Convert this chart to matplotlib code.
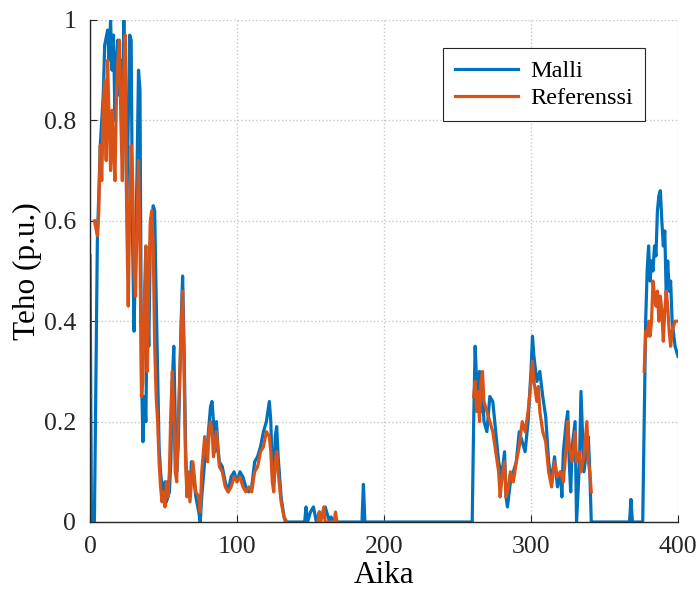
import numpy as np
import matplotlib.pyplot as plt

nan = np.nan

# Malli (blue)
malli_x = [0, 1, 3, 5, 7, 9, 10, 12, 13, 14, 15, 16, 17, 18, 19, 20, 21, 22, 23, 24,
           25, 26, 27, 28, 29, 30, 31, 32, 33, 34, 35, 36, 37, 38, 39, 40, 41, 42, 43, 44,
           45, 46, 47, 48, 49, 50, 51, 52, 53, 54, 55, 56, 57, 58, 59, 60, 62, 63, 64, 65,
           66, 67, 68, 69, 70, 72, 74, 75, 76, 78, 80, 82, 83, 84, 85, 86, 87, 88, 90, 92,
           94, 96, 98, 100, 102, 104, 106, 108, 110, 112, 114, 116, 118, 120, 122, 123, 124, 125, 126, 127,
           128, 130, 132, 133, 146, 147, 148, 150, 152, 154, 156, 158, 160, 162, 163, 164, 165, 185, 186, 187,
           260, 261, 262, 263, 264, 265, 266, 267, 268, 270, 272, 274, 276, 278, 280, 282, 283, 284, 286, 288,
           290, 292, 294, 296, 298, 300, 301, 302, 304, 306, 308, 310, 312, 314, 316, 318, 320, 321, 322, 324,
           325, 326, 327, 328, 330, 331, 333, 334, 335, 336, 338, 339, 340, 341, 367, 368, 369, 376, 378, 379,
           380, 381, 382, 383, 384, 385, 386, 387, 388, 389, 390, 391, 392, 393, 394, 395, 396, 398, 400]
malli_y = [0.53, 0.0, 0.0, 0.56, 0.75, 0.85, 0.95, 0.98, 0.92, 1.0, 0.90, 0.97, 0.80, 0.92, 0.96, 0.85, 0.92, 0.78, 1.0, 0.85,
           0.62, 0.80, 0.97, 0.96, 0.55, 0.38, 0.55, 0.70, 0.90, 0.86, 0.30, 0.16, 0.25, 0.20, 0.45, 0.35, 0.55, 0.60, 0.63, 0.62,
           0.45, 0.30, 0.15, 0.10, 0.07, 0.05, 0.08, 0.04, 0.05, 0.06, 0.12, 0.28, 0.35, 0.20, 0.10, 0.15, 0.40, 0.49, 0.35, 0.15,
           0.06, 0.08, 0.05, 0.12, 0.10, 0.05, 0.02, 0.0, 0.05, 0.12, 0.16, 0.23, 0.24, 0.20, 0.14, 0.20, 0.15, 0.12, 0.11, 0.08,
           0.06, 0.09, 0.10, 0.08, 0.10, 0.09, 0.07, 0.06, 0.07, 0.12, 0.13, 0.15, 0.18, 0.20, 0.24, 0.20, 0.10, 0.08, 0.17, 0.19,
           0.13, 0.05, 0.01, 0.0, 0.0, 0.03, 0.0, 0.02, 0.03, 0.0, 0.02, 0.01, 0.03, 0.01, 0.0, 0.01, 0.0, 0.0, 0.075, 0.0,
           0.0, 0.20, 0.35, 0.28, 0.22, 0.30, 0.22, 0.26, 0.20, 0.18, 0.25, 0.24, 0.18, 0.12, 0.09, 0.14, 0.05, 0.03, 0.08, 0.10,
           0.12, 0.18, 0.16, 0.14, 0.20, 0.30, 0.37, 0.33, 0.28, 0.30, 0.25, 0.21, 0.12, 0.08, 0.13, 0.07, 0.10, 0.05, 0.14, 0.20,
           0.22, 0.12, 0.06, 0.15, 0.20, 0.0, 0.12, 0.26, 0.18, 0.10, 0.15, 0.17, 0.10, 0.0, 0.0, 0.045, 0.0, 0.0, 0.40, 0.50,
           0.55, 0.48, 0.52, 0.50, 0.55, 0.53, 0.62, 0.65, 0.66, 0.60, 0.55, 0.58, 0.45, 0.52, 0.46, 0.48, 0.40, 0.35, 0.33]

# Referenssi (orange), NaN where no data
ref_x = [0, 0.4, 1, 3, 5, 6, 7, 8, 9, 10, 11, 12, 13, 14, 15, 16, 17, 18, 19, 20, 21,
         22, 23, 24, 25, 26, 27, 28, 29, 30, 31, 32, 33, 34, 35, 36, 37, 38, 39, 40, 41,
         42, 43, 44, 45, 46, 47, 48, 49, 50, 51, 52, 53, 54, 55, 56, 57, 58, 59, 60, 62,
         63, 64, 65, 66, 67, 68, 69, 70, 72, 74, 75, 76, 78, 80, 81, 82, 83, 84, 86, 88,
         90, 92, 94, 96, 98, 100, 102, 104, 106, 108, 110, 112, 114, 116, 118, 120, 122, 123, 124, 125,
         126, 127, 128, 130, 132, 134, 135, 155, 156, 157, 159, 160, 166, 167, 168, 169, 260, 261, 262, 263,
         264, 265, 266, 267, 268, 270, 272, 274, 276, 278, 279, 280, 282, 283, 284, 286, 288, 290, 292, 294,
         296, 298, 300, 301, 302, 304, 305, 306, 308, 310, 312, 314, 316, 318, 320, 322, 324, 325, 326, 328,
         330, 331, 333, 334, 336, 338, 339, 340, 341, 376, 377, 378, 379, 380, 381, 382, 383, 384, 385, 386,
         387, 388, 389, 390, 391, 392, 393, 394, 395, 396, 398, 400]
ref_y = [0.25, 0.25, nan, 0.60, 0.57, 0.62, 0.75, 0.68, 0.82, 0.88, 0.72, 0.92, 0.80, 0.70, 0.82, 0.74, 0.68, 0.85, 0.92, 0.96, 0.80,
         0.68, 0.90, 0.97, 0.60, 0.43, 0.62, 0.75, 0.68, 0.50, 0.45, 0.60, 0.72, 0.55, 0.25, 0.28, 0.45, 0.55, 0.30, 0.48, 0.60,
         0.62, 0.55, 0.35, 0.25, 0.20, 0.12, 0.07, 0.04, 0.06, 0.03, 0.08, 0.05, 0.10, 0.22, 0.30, 0.22, 0.10, 0.08, 0.20, 0.38,
         0.46, 0.30, 0.12, 0.05, 0.10, 0.04, 0.08, 0.12, 0.06, 0.05, 0.02, 0.10, 0.17, 0.12, 0.18, 0.20, 0.18, 0.13, 0.18, 0.11,
         0.10, 0.07, 0.06, 0.07, 0.09, 0.08, 0.09, 0.07, 0.06, 0.07, 0.06, 0.10, 0.11, 0.14, 0.15, 0.18, 0.17, 0.14, 0.08, 0.06,
         0.12, 0.14, 0.10, 0.04, 0.01, 0.0, nan, 0.0, 0.02, 0.0, 0.03, 0.0, 0.0, 0.02, 0.0, nan, nan, 0.25, 0.28, 0.22,
         0.26, 0.20, 0.28, 0.30, 0.24, 0.22, 0.20, 0.18, 0.14, 0.10, 0.05, 0.08, 0.12, 0.05, 0.06, 0.10, 0.08, 0.12, 0.15, 0.20,
         0.18, 0.22, 0.28, 0.32, 0.28, 0.24, 0.27, 0.22, 0.18, 0.16, 0.10, 0.07, 0.12, 0.09, 0.10, 0.08, 0.15, 0.20, 0.15, 0.12,
         0.18, 0.12, 0.14, 0.10, 0.13, 0.20, 0.12, 0.10, 0.06, nan, 0.30, 0.38, 0.37, 0.40, 0.37, 0.40, 0.48, 0.45, 0.43, 0.46,
         0.40, 0.45, 0.42, 0.36, 0.42, 0.46, 0.43, 0.38, 0.35, 0.38, 0.40, 0.40]

plt.rcParams['font.family'] = ['Liberation Serif', 'DejaVu Serif']

fig = plt.figure(figsize=(6.98, 5.94), dpi=100)
ax = fig.add_axes([90 / 698, 72 / 594, 588 / 698, 502 / 594])

ax.plot(malli_x, malli_y, color='#0072BD', lw=2.3, label='Malli')
ax.plot(ref_x, ref_y, color='#D95319', lw=2.3, label='Referenssi')

ax.set_xlim(0, 400)
ax.set_ylim(0, 1)
ax.set_xticks([0, 100, 200, 300, 400])
ax.set_yticks([0, 0.2, 0.4, 0.6, 0.8, 1])
ax.set_yticklabels(['0', '0.2', '0.4', '0.6', '0.8', '1'])
ax.grid(True, color='#c8c8c8', linestyle=':', linewidth=1.0)
ax.set_axisbelow(True)
for s in ['top', 'right']:
    ax.spines[s].set_visible(False)
for s in ['left', 'bottom']:
    ax.spines[s].set_color('#262626')
    ax.spines[s].set_linewidth(1.0)
ax.tick_params(direction='in', length=5, labelsize=18.5, colors='#262626', pad=10)
ax.set_xlabel('Aika', fontsize=22.5, labelpad=2)
ax.set_ylabel('Teho (p.u.)', fontsize=22.5, labelpad=1)

leg = ax.legend(loc='upper right', bbox_to_anchor=(0.944, 0.944), borderaxespad=0,
                fontsize=17.5, fancybox=False, framealpha=1, edgecolor='#262626',
                handlelength=2.6, handletextpad=0.5, borderpad=0.5, labelspacing=0.2)
leg.get_frame().set_linewidth(0.8)

fig.savefig('out.png', dpi=100)
